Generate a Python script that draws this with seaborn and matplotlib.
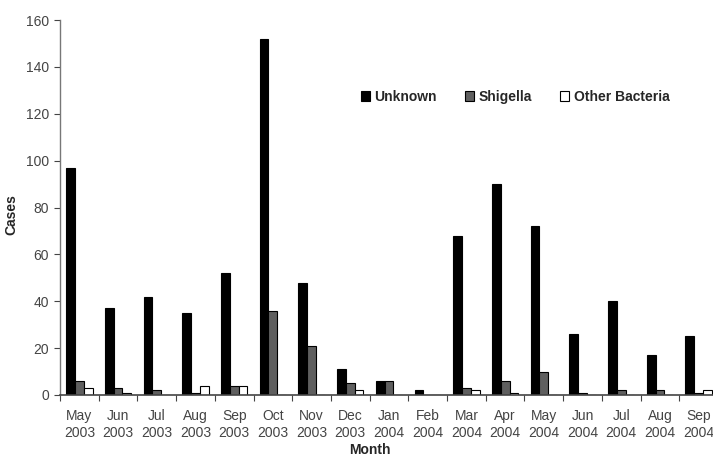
import pandas as pd
import numpy as np
import matplotlib.pyplot as plt
import seaborn as sns
from matplotlib.ticker import FixedLocator

months = ["May\n2003", "Jun\n2003", "Jul\n2003", "Aug\n2003", "Sep\n2003", "Oct\n2003",
          "Nov\n2003", "Dec\n2003", "Jan\n2004", "Feb\n2004", "Mar\n2004", "Apr\n2004",
          "May\n2004", "Jun\n2004", "Jul\n2004", "Aug\n2004", "Sep\n2004"]
unknown = [97, 37, 42, 35, 52, 152, 48, 11, 6, 2, 68, 90, 72, 26, 40, 17, 25]
shigella = [6, 3, 2, 1, 4, 36, 21, 5, 6, 0, 3, 6, 10, 1, 2, 2, 1]
other = [3, 1, 0, 4, 4, 0, 0, 2, 0, 0, 2, 1, 0, 0, 0, 0, 2]
series = ["Unknown", "Shigella", "Other Bacteria"]

df = pd.DataFrame({"Month": months * 3,
                   "Cases": unknown + shigella + other,
                   "Type": [s for s in series for _ in months]})

sns.set_style("white")
plt.rcParams['font.family'] = ['Liberation Sans', 'DejaVu Sans']

fig = plt.figure(figsize=(7.13, 4.59), dpi=100)
ax = fig.add_axes([60 / 713, (459 - 395) / 459, 658 / 713, 375 / 459])

palette = {"Unknown": "#000000", "Shigella": "#5f5f5f", "Other Bacteria": "#ffffff"}
sns.barplot(data=df, x="Month", y="Cases", hue="Type", palette=palette,
            width=0.68, edgecolor="black", linewidth=0.8, saturation=1, ax=ax)

ax.set_xlim(-0.5, len(months) - 0.5)
ax.set_ylim(0, 160)
ax.set_yticks(range(0, 161, 20))
ax.tick_params(axis="y", labelsize=10, colors="#444444", length=4, width=0.8, direction="out", left=True, pad=4)
ax.tick_params(axis="x", which="major", length=0, labelsize=10, labelcolor="#444444", pad=10)
ax.xaxis.set_minor_locator(FixedLocator(np.arange(-0.5, len(months), 1)))
ax.tick_params(axis="x", which="minor", length=4, width=0.8, color="#444444", bottom=True)
for lbl in ax.get_xticklabels():
    lbl.set_linespacing(1.25)

sns.despine(ax=ax)
ax.spines["left"].set_color("#777777")
ax.spines["bottom"].set_color("#444444")
ax.spines["left"].set_linewidth(1)
ax.spines["bottom"].set_linewidth(1.2)

ax.set_ylabel("Cases", fontsize=10, fontweight="bold")
ax.yaxis.set_label_coords(-(60 - 18) / 658, (395 - 215) / 375)
ax.set_xlabel("Month", fontsize=10, fontweight="bold")
ax.xaxis.set_label_coords((370 - 60) / 658, -(450 - 395) / 375)
ax.xaxis.label.set_va("center")

ax.legend(loc="center left", bbox_to_anchor=((355 - 60) / 658, (395 - 97) / 375),
          ncol=3, frameon=False, handlelength=0.7, handleheight=0.7,
          handletextpad=0.3, columnspacing=2.0, borderaxespad=0,
          prop={"weight": "bold", "size": 10})

fig.savefig("out.png", dpi=100)
